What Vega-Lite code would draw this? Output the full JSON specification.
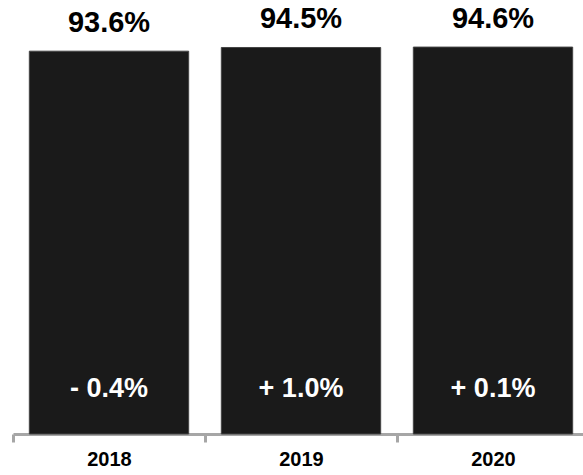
{
  "$schema": "https://vega.github.io/schema/vega-lite/v6.json",
  "autosize": {"type": "none"},
  "padding": {"left": 13, "top": 25, "right": 0, "bottom": 41},
  "width": 576,
  "height": 409,
  "background": "white",
  "config": {"view": {"stroke": null}, "font": "Liberation Sans"},
  "data": {
    "values": [
      {"year": "2018", "value": 93.6, "label": "93.6%", "change": "- 0.4%"},
      {"year": "2019", "value": 94.5, "label": "94.5%", "change": "+ 1.0%"},
      {"year": "2020", "value": 94.6, "label": "94.6%", "change": "+ 0.1%"}
    ]
  },
  "encoding": {
    "x": {
      "field": "year",
      "type": "nominal",
      "scale": {"paddingInner": 0, "paddingOuter": 0},
      "axis": {
        "title": null,
        "labelAngle": 0,
        "tickBand": "extent",
        "domainColor": "#a6a6a6",
        "domainWidth": 3,
        "tickColor": "#a6a6a6",
        "tickWidth": 3,
        "tickSize": 8,
        "labelFont": "Liberation Sans",
        "labelFontWeight": "bold",
        "labelFontSize": 20,
        "labelColor": "#000000",
        "labelPadding": 7
      }
    }
  },
  "layer": [
    {
      "mark": {"type": "bar", "width": {"band": 0.83}, "color": "#1a1a1a", "stroke": "#444444", "strokeWidth": 1},
      "encoding": {
        "y": {"field": "value", "type": "quantitative", "scale": {"domain": [0, 100]}, "axis": null}
      }
    },
    {
      "mark": {"type": "text", "font": "Liberation Sans", "fontWeight": "bold", "fontSize": 29, "baseline": "alphabetic", "dy": -19, "color": "#000000"},
      "encoding": {
        "y": {"field": "value", "type": "quantitative"},
        "text": {"field": "label"}
      }
    },
    {
      "mark": {"type": "text", "font": "Liberation Sans", "fontWeight": "bold", "fontSize": 27, "baseline": "alphabetic", "dy": -37, "color": "#ffffff"},
      "encoding": {
        "y": {"datum": 0, "type": "quantitative"},
        "text": {"field": "change"}
      }
    }
  ]
}
